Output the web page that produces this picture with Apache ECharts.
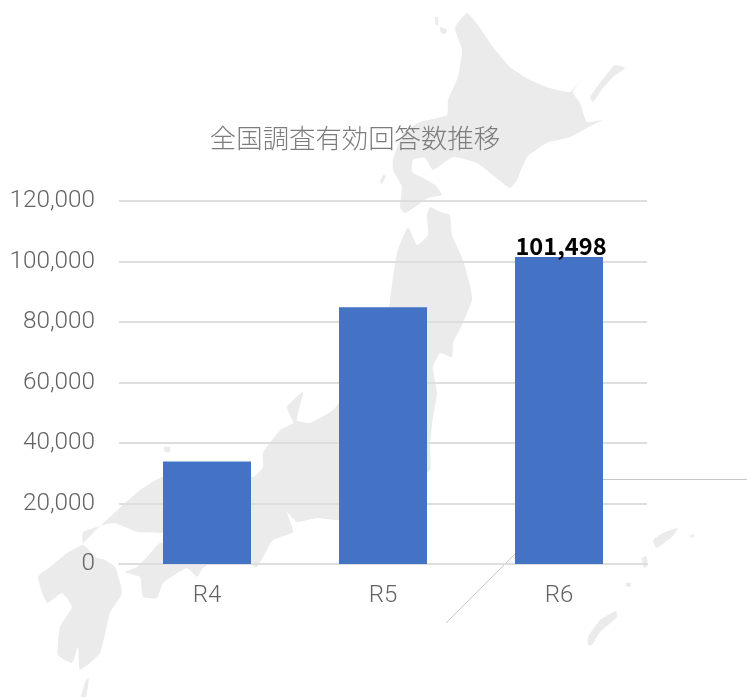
<!DOCTYPE html>
<html>
<head>
<meta charset="utf-8">
<style>html,body{margin:0;padding:0;background:#fff}#c{width:747px;height:697px}</style>
<script src="https://cdn.jsdelivr.net/npm/echarts@6/dist/echarts.min.js"></script>
</head>
<body>
<div id="c"></div>
<script>
const titleText = '全国調査有効回答数推移';
const categories = ['R4', 'R5', 'R6'];
const respondents = [33850, 84860, 101498];
const labelledIndex = 2;

// Decorative backdrop (the map of Japan behind the chart), in page pixels.
const hokkaido = [[467,13],[455,28],[462,50],[458,77],[448,100],[447,115],[420,122],[403,133],[393,160],[393,170],[402,187],[400,207],[405,213],[415,207],[428,198],[442,195],[435,185],[423,178],[412,172],[413,160],[425,158],[433,170],[453,157],[477,163],[510,188],[517,180],[527,157],[547,143],[570,137],[587,128],[602,120],[587,122],[580,103],[573,92],[587,73],[570,92],[550,88],[530,80],[510,67],[493,47],[480,28]];
const honshu = [[430,207],[441,212],[450,215],[452,235],[463,260],[470,285],[472,300],[462,325],[453,343],[452,357],[440,353],[433,367],[437,393],[433,417],[430,445],[430,470],[400,490],[370,510],[339,520],[317,518],[297,522],[287,512],[293,532],[273,540],[263,557],[257,567],[245,560],[238,530],[210,525],[185,535],[163,533],[138,532],[113,523],[83,532],[83,543],[96,530],[110,517],[125,503],[140,490],[160,478],[200,468],[253,477],[263,467],[263,453],[280,430],[293,423],[287,407],[303,392],[297,420],[310,423],[333,410],[345,395],[385,340],[390,300],[397,253],[408,227],[417,245],[428,235],[427,215]];
const shikoku = [[125,572],[137,567],[147,557],[160,543],[200,540],[240,540],[225,555],[203,568],[197,577],[187,568],[163,583],[157,598],[143,597],[140,577]];
const kyushu = [[83,545],[97,558],[105,560],[115,567],[122,593],[110,613],[100,653],[80,670],[78,647],[72,663],[58,655],[60,627],[72,607],[62,593],[47,603],[38,577],[50,567],[67,553]];
const tanegashima = [[89,678],[86,680],[81,697],[86,697]];
const rebun = [[435,17],[438,17],[438,25],[436,25]];
const rishiri = [[440,27],[447,30],[445,34],[441,33]];
const okushiri = [[383,175],[386,176],[382,184],[380,182]];
const kunashiri = [[625,68],[615,65],[600,83],[590,97],[593,102],[603,88],[613,77]];
const oki = [[164,447],[170,447],[170,452],[165,452]];
const amami = [[653,540],[665,532],[678,528],[672,537],[660,546],[656,548]];
const kikai = [[689,536],[694,534],[693,538]];
const tokunoshima = [[642,558],[646,556],[648,565],[644,568]];
const okinoerabu = [[626,583],[631,583],[630,587],[626,586]];
const okinawa = [[588,637],[600,620],[616,611],[617,617],[600,632],[592,645],[588,645]];
const islands = [hokkaido, honshu, shikoku, kyushu, tanegashima, rebun, rishiri, okushiri, kunashiri, oki, amami, kikai, tokunoshima, okinoerabu, okinawa];
const connectors = [[[603,479.5],[747,479.5]], [[516,553],[446,623]]];

const FONT = '"Noto Sans CJK JP","Noto Sans",sans-serif';
const chart = echarts.init(document.getElementById('c'), null, {renderer:'canvas'});
chart.setOption({
  animation:false,
  backgroundColor:'#fff',
  title:{
    text:titleText, left:350, top:120, textAlign:'center',
    textStyle:{color:'#7c7c7c', fontFamily:FONT, fontWeight:300, fontSize:26.4}
  },
  grid:{left:119, right:100, top:201, bottom:133, containLabel:false},
  xAxis:{
    type:'category', data:categories,
    axisLine:{show:true, lineStyle:{color:'#dedede', width:2}},
    axisTick:{show:false},
    axisLabel:{color:'#636363', fontFamily:'Roboto,sans-serif', fontWeight:300, fontSize:24, margin:20}
  },
  yAxis:{
    type:'value', min:0, max:120000, interval:20000,
    axisLine:{show:false}, axisTick:{show:false},
    splitLine:{lineStyle:{color:'#dedede', width:2}},
    axisLabel:{color:'#636363', fontFamily:'Roboto,sans-serif', fontWeight:300, fontSize:24.3, margin:24,
      formatter:v=>v.toLocaleString('en-US')}
  },
  series:[{
    type:'bar', barWidth:88, z:5,
    itemStyle:{color:'#4472c4'},
    data:respondents.map((v,i)=>i===labelledIndex?{
      value:v,
      label:{show:true, position:'top', distance:-2, offset:[2,-1.5], color:'#000', fontFamily:'"Noto Sans CJK JP",sans-serif', fontWeight:700, fontSize:23.6,
        formatter:p=>p.value.toLocaleString('en-US')}
    }:v)
  }],
  graphic:[
    ...islands.map(pts=>({type:'polygon', silent:true, z:-10, shape:{points:pts, smooth:0.15}, style:{fill:'#ebebeb'}})),
    ...connectors.map(c=>({type:'line', silent:true, z:-5,
      shape:{x1:c[0][0],y1:c[0][1],x2:c[1][0],y2:c[1][1]}, style:{stroke:'#c8c8c8',lineWidth:1}}))
  ]
});
</script>
</body>
</html>
